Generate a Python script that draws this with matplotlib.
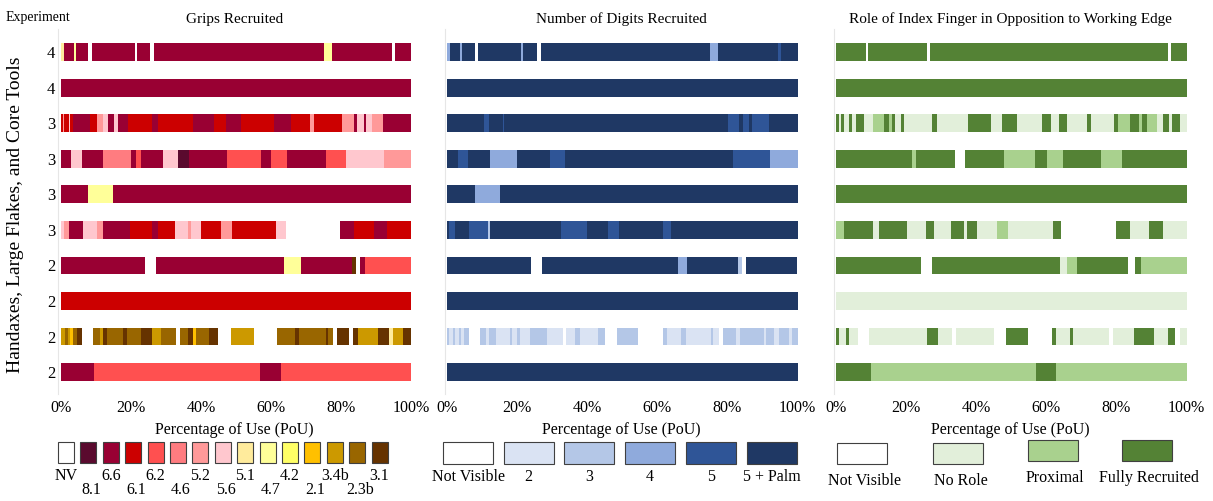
import matplotlib
matplotlib.use('Agg')
import matplotlib.pyplot as plt
from matplotlib.patches import Rectangle

plt.rcParams['font.family'] = ['Liberation Serif', 'DejaVu Serif']

# experiment number for each tool, top to bottom
experiments = ['4', '4', '3', '3', '3', '3', '2', '2', '2', '2']
titles = ['Grips Recruited', 'Number of Digits Recruited',
          'Role of Index Finger in Opposition to Working Edge']
ticks = [0, 20, 40, 60, 80, 100]

# grip codes and their colours
grip_codes = ['NV', '8.1', '6.6', '6.1', '6.2', '4.6', '5.2', '5.6', '5.1', '4.7',
              '4.2', '2.1', '3.4b', '2.3b', '3.1']
grip_colors = ['#ffffff', '#5a0a2e', '#990033', '#cc0000', '#ff5050', '#ff7c80',
               '#ff9999', '#ffc7ce', '#ffeb9c', '#ffff99', '#ffff66', '#ffc000',
               '#cc9900', '#996600', '#663300']

digit_codes = ['Not Visible', '2', '3', '4', '5', '5 + Palm']
digit_colors = ['#ffffff', '#dae3f3', '#b4c7e7', '#8faadc', '#2f5597', '#1f3864']

role_codes = ['Not Visible', 'No Role', 'Proximal', 'Fully Recruited']
role_colors = ['#ffffff', '#e2efda', '#a9d18e', '#548235']

# each segment is (code, end of segment in % of use)
grips = [
    [('5.1', 1.0), ('6.6', 3.9), ('4.7', 4.4), ('6.6', 7.7), ('NV', 8.8), ('6.6', 21.1),
     ('NV', 21.9), ('6.6', 25.6), ('NV', 26.6), ('6.6', 75.1), ('4.7', 77.3),
     ('6.6', 94.5), ('NV', 95.3), ('6.6', 100)],
    [('6.6', 100)],
    [('6.1', 0.6), ('5.2', 0.9), ('6.1', 2.2), ('5.6', 2.6), ('6.1', 3.6), ('6.6', 8.3),
     ('6.1', 10.2), ('5.2', 12.1), ('5.6', 13.5), ('6.6', 15.2), ('5.6', 16.2),
     ('6.6', 19.2), ('6.1', 25.9), ('6.6', 27.7), ('6.1', 37.7), ('6.6', 43.8),
     ('6.1', 47.2), ('6.6', 51.4), ('6.1', 60.9), ('6.6', 65.6), ('6.1', 71.3),
     ('5.2', 72.3), ('6.1', 80.3), ('5.2', 83.6), ('6.6', 84.6), ('5.6', 86.5),
     ('6.6', 87.2), ('5.6', 88.8), ('5.2', 92.1), ('6.6', 100)],
    [('6.6', 2.9), ('5.6', 6.0), ('6.6', 12.1), ('4.6', 20.0), ('6.6', 21.4), ('6.2', 23.0),
     ('6.6', 29.2), ('5.6', 33.6), ('8.1', 36.7), ('6.6', 47.6), ('6.2', 57.1),
     ('6.6', 60.1), ('6.2', 64.7), ('6.6', 75.6), ('6.2', 81.5), ('5.6', 92.4),
     ('5.2', 100)],
    [('6.6', 7.7), ('4.7', 15.0), ('6.6', 100)],
    [('5.6', 0.8), ('5.2', 2.2), ('6.6', 6.2), ('5.6', 10.2), ('5.2', 12.1), ('6.6', 19.7),
     ('6.1', 25.9), ('6.6', 27.7), ('6.1', 32.5), ('5.6', 36.3), ('5.2', 37.2),
     ('5.6', 39.9), ('6.1', 45.7), ('5.2', 48.8), ('6.1', 61.4), ('5.6', 64.2),
     ('NV', 79.8), ('6.6', 83.6), ('6.1', 89.3), ('6.6', 93.1), ('6.1', 100)],
    [('6.6', 24.0), ('NV', 27.1), ('6.6', 63.7), ('4.7', 68.5), ('6.6', 83.1),
     ('3.1', 84.4), ('NV', 85.5), ('6.6', 86.9), ('6.2', 100)],
    [('6.1', 100)],
    [('3.4b', 1.2), ('2.3b', 2.0), ('3.4b', 2.7), ('2.1', 3.6), ('2.3b', 4.5), ('3.1', 6.0),
     ('NV', 9.3), ('2.3b', 11.2), ('3.4b', 12.1), ('3.1', 13.1), ('2.3b', 17.8),
     ('3.1', 18.8), ('2.3b', 23.0), ('3.1', 25.9), ('3.4b', 28.7), ('2.3b', 33.0),
     ('NV', 33.9), ('2.3b', 36.3), ('3.1', 37.7), ('2.1', 38.6), ('2.3b', 42.4),
     ('3.1', 44.8), ('NV', 48.6), ('3.4b', 55.2), ('NV', 61.8), ('2.3b', 67.0),
     ('3.1', 68.0), ('2.3b', 75.6), ('3.1', 76.2), ('2.3b', 77.7), ('NV', 78.9),
     ('3.1', 82.2), ('NV', 83.3), ('3.1', 84.8), ('3.4b', 90.7), ('3.1', 93.6),
     ('5.1', 95.0), ('3.4b', 97.8), ('3.1', 100)],
    [('6.6', 9.6), ('6.2', 56.9), ('6.6', 62.8), ('6.2', 100)],
]

digits = [
    [('4', 0.9), ('5 + Palm', 3.5), ('4', 4.2), ('5 + Palm', 8.0), ('Not Visible', 8.9),
     ('5 + Palm', 21.0), ('4', 21.7), ('5 + Palm', 25.7), ('Not Visible', 26.7),
     ('5 + Palm', 74.9), ('4', 77.2), ('5 + Palm', 94.5), ('5', 95.2), ('5 + Palm', 100)],
    [('5 + Palm', 100)],
    [('5 + Palm', 10.4), ('5', 12.0), ('5 + Palm', 15.8), ('5', 16.3), ('5 + Palm', 80.1),
     ('5', 83.4), ('5 + Palm', 84.3), ('5', 86.2), ('5 + Palm', 87.0), ('5', 91.9),
     ('5 + Palm', 100)],
    [('5 + Palm', 3.0), ('5', 6.0), ('5 + Palm', 12.2), ('4', 19.8), ('5 + Palm', 29.2),
     ('5', 33.6), ('5 + Palm', 81.7), ('5', 92.2), ('4', 100)],
    [('5 + Palm', 7.8), ('4', 15.0), ('5 + Palm', 100)],
    [('5 + Palm', 0.5), ('5', 2.1), ('5 + Palm', 6.3), ('5', 11.5), ('3', 12.2),
     ('5 + Palm', 32.6), ('5', 39.9), ('5 + Palm', 45.8), ('5', 48.9), ('5 + Palm', 61.6),
     ('5', 64.0), ('5 + Palm', 100)],
    [('5 + Palm', 23.8), ('Not Visible', 27.1), ('5 + Palm', 65.9), ('4', 68.4),
     ('5 + Palm', 83.1), ('3', 84.1), ('Not Visible', 85.3), ('5 + Palm', 100)],
    [('5 + Palm', 100)],
    [('3', 0.5), ('2', 1.6), ('3', 2.1), ('2', 3.2), ('3', 3.8), ('2', 4.7), ('3', 6.3),
     ('Not Visible', 9.2), ('3', 11.1), ('2', 12.0), ('3', 13.9), ('2', 18.0), ('3', 18.6),
     ('2', 20.0), ('3', 20.8), ('2', 23.6), ('3', 28.5), ('2', 33.1), ('Not Visible', 34.0),
     ('2', 36.6), ('3', 38.0), ('2', 43.0), ('3', 44.9), ('Not Visible', 48.4), ('3', 54.5),
     ('Not Visible', 61.6), ('3', 62.6), ('2', 66.8), ('3', 68.1), ('2', 75.3), ('3', 75.8),
     ('2', 77.5), ('Not Visible', 78.8), ('3', 82.4), ('2', 83.6), ('3', 90.5), ('2', 91.1),
     ('3', 93.3), ('2', 94.7), ('3', 97.5), ('2', 98.3), ('3', 100)],
    [('5 + Palm', 100)],
]

roles = [
    [('Fully Recruited', 8.5), ('Not Visible', 9.1), ('Fully Recruited', 25.9),
     ('Not Visible', 26.7), ('Fully Recruited', 94.6), ('Not Visible', 95.6),
     ('Fully Recruited', 100)],
    [('Fully Recruited', 100)],
    [('Fully Recruited', 0.8), ('No Role', 1.4), ('Fully Recruited', 2.1), ('No Role', 3.6),
     ('Fully Recruited', 4.5), ('No Role', 5.5), ('Fully Recruited', 8.0), ('No Role', 10.4),
     ('Proximal', 13.7), ('Fully Recruited', 15.1), ('Proximal', 16.0),
     ('Fully Recruited', 16.8), ('No Role', 18.4), ('Fully Recruited', 19.3),
     ('No Role', 27.2), ('Fully Recruited', 28.8), ('No Role', 37.5),
     ('Fully Recruited', 44.3), ('No Role', 47.2), ('Fully Recruited', 51.7),
     ('No Role', 58.7), ('Fully Recruited', 61.3), ('No Role', 63.5),
     ('Fully Recruited', 65.8), ('No Role', 71.7), ('Fully Recruited', 72.6),
     ('No Role', 79.4), ('Fully Recruited', 80.5), ('Proximal', 83.8),
     ('Fully Recruited', 86.3), ('Proximal', 87.3), ('Fully Recruited', 88.7),
     ('Proximal', 91.7), ('No Role', 93.4), ('Fully Recruited', 95.1), ('No Role', 95.8),
     ('Fully Recruited', 98.1), ('No Role', 100)],
    [('Fully Recruited', 21.5), ('Proximal', 22.9), ('Fully Recruited', 33.8),
     ('Not Visible', 36.8), ('Fully Recruited', 47.9), ('Proximal', 56.8),
     ('Fully Recruited', 60.1), ('Proximal', 64.6), ('Fully Recruited', 75.5),
     ('Proximal', 81.6), ('Fully Recruited', 100)],
    [('Fully Recruited', 100)],
    [('Proximal', 2.2), ('Fully Recruited', 10.6), ('No Role', 12.3), ('Fully Recruited', 20.3),
     ('No Role', 25.5), ('Fully Recruited', 28.0), ('No Role', 32.8), ('Fully Recruited', 36.6),
     ('No Role', 37.4), ('Fully Recruited', 40.1), ('No Role', 45.9), ('Proximal', 48.9),
     ('No Role', 61.8), ('Fully Recruited', 64.2), ('Not Visible', 80.0),
     ('Fully Recruited', 84.0), ('No Role', 89.2), ('Fully Recruited', 93.4), ('No Role', 100)],
    [('Fully Recruited', 24.1), ('Not Visible', 27.2), ('Fully Recruited', 63.9),
     ('No Role', 66.0), ('Proximal', 68.7), ('Fully Recruited', 83.2), ('Not Visible', 85.4),
     ('Fully Recruited', 87.0), ('Proximal', 100)],
    [('No Role', 100)],
    [('Fully Recruited', 0.8), ('No Role', 2.8), ('Fully Recruited', 3.6), ('No Role', 6.1),
     ('Not Visible', 9.2), ('No Role', 25.9), ('Fully Recruited', 29.0), ('No Role', 33.0),
     ('Not Visible', 34.2), ('No Role', 45.0), ('Not Visible', 48.6),
     ('Fully Recruited', 54.7), ('Not Visible', 61.6), ('Fully Recruited', 62.7),
     ('No Role', 66.8), ('Fully Recruited', 67.5), ('No Role', 77.8), ('Not Visible', 79.1),
     ('No Role', 84.9), ('Fully Recruited', 90.8), ('No Role', 94.8),
     ('Fully Recruited', 96.7), ('Not Visible', 98.1), ('No Role', 100)],
    [('Fully Recruited', 9.9), ('Proximal', 56.9), ('Fully Recruited', 62.7), ('Proximal', 100)],
]

W, H = 1213, 501
fig = plt.figure(figsize=(W / 100, H / 100), dpi=100)

panels = [(grips, grip_codes, grip_colors, 58),
          (digits, digit_codes, digit_colors, 444.5),
          (roles, role_codes, role_colors, 833.5)]

axes = []
for i, (rows, codes, colors, left) in enumerate(panels):
    ax = fig.add_axes([left / W, (H - 393.5) / H, 353 / W, 364.5 / H])
    cmap = dict(zip(codes, colors))
    for r, row in enumerate(rows):
        start = 0
        for code, end in row:
            ax.barh(r, end - start, left=start, height=0.5, color=cmap[code], linewidth=0)
            start = end
    ax.set_xlim(-0.8, 100)
    ax.set_ylim(len(rows) - 0.4, -0.65)
    ax.set_xticks(ticks)
    ax.set_xticklabels([f'{t}%' for t in ticks], fontsize=11.5)
    ax.tick_params(axis='x', length=0, pad=5)
    for s in ['top', 'right', 'bottom']:
        ax.spines[s].set_visible(False)
    ax.spines['left'].set_color('#e6e6e6')
    ax.spines['left'].set_linewidth(0.8)
    if i == 0:
        ax.set_yticks(range(len(experiments)))
        ax.set_yticklabels(experiments, fontsize=12)
        ax.tick_params(axis='y', length=0, pad=2)
    else:
        ax.set_yticks([])
    ax.set_xlabel('Percentage of Use (PoU)', fontsize=11.5, labelpad=4)
    ax.set_title(titles[i], fontsize=11, pad=4)
    axes.append(ax)

fig.text(38 / W, 1 - 18 / H, 'Experiment', fontsize=10, ha='center', va='center')
fig.text(16 / W, 1 - 215 / H, 'Handaxes, Large Flakes, and Core Tools', fontsize=14,
         rotation=90, ha='center', va='center')

# legend keys drawn in pixel space on a transparent overlay
lg = fig.add_axes([0, 0, 1, 1])
lg.set_xlim(0, W)
lg.set_ylim(H, 0)
lg.axis('off')
lg.patch.set_alpha(0)

for k, (code, col) in enumerate(zip(grip_codes, grip_colors)):
    x = 58 + k * 22.4
    lg.add_patch(Rectangle((x, 442), 16, 21, facecolor=col, edgecolor='#404040', linewidth=0.8))
    ty = 476 if k % 2 == 0 else 490
    lg.text(x + 8 + (3 if k % 2 else 0), ty, code, fontsize=11.5, ha='center', va='center')

for k, (code, col) in enumerate(zip(digit_codes, digit_colors)):
    x = 443 + k * 60.7
    lg.add_patch(Rectangle((x, 442), 50, 22, facecolor=col, edgecolor='#404040', linewidth=0.8))
    lg.text(x + 25, 477, code, fontsize=11.5, ha='center', va='center')

role_x = [837, 933, 1028, 1122]
role_y = [443, 443, 440, 440]
for k, (code, col) in enumerate(zip(role_codes, role_colors)):
    lg.add_patch(Rectangle((role_x[k], role_y[k]), 50, 21, facecolor=col,
                           edgecolor='#404040', linewidth=0.8))
    lg.text(role_x[k] + 28 if k < 2 else role_x[k] + 27, role_y[k] + 38, code,
            fontsize=11.5, ha='center', va='center')

fig.savefig('out.png', dpi=100)
